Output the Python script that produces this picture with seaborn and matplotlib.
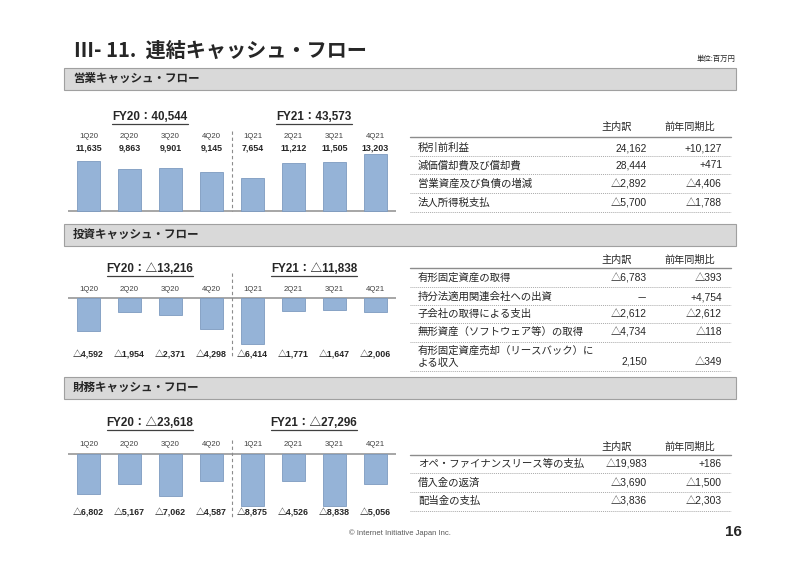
import pandas as pd
import seaborn as sns
import matplotlib.pyplot as plt
from matplotlib.patches import Rectangle
from matplotlib.lines import Line2D

# quarterly cash flows (million yen)
quarters = ['1Q20', '2Q20', '3Q20', '4Q20', '1Q21', '2Q21', '3Q21', '4Q21']
op_cf = [11635, 9863, 9901, 9145, 7654, 11212, 11505, 13203]
inv_cf = [-4592, -1954, -2371, -4298, -6414, -1771, -1647, -2006]
fin_cf = [-6802, -5167, -7062, -4587, -8875, -4526, -8838, -5056]
op_fy = [40544, 43573]
inv_fy = [-13216, -11838]
fin_fy = [-23618, -27296]

# breakdown tables
op_items = ['税引前利益', '減価償却費及び償却費', '営業資産及び負債の増減', '法人所得税支払']
op_main = [24162, 28444, -2892, -5700]
op_yoy = [10127, 471, -4406, -1788]

inv_items = ['有形固定資産の取得', '持分法適用関連会社への出資', '子会社の取得による支出',
             '無形資産（ソフトウェア等）の取得', '有形固定資産売却（リースバック）に\nよる収入']
inv_main = [-6783, None, -2612, -4734, 2150]
inv_yoy = [-393, 4754, -2612, -118, -349]

fin_items = ['オペ・ファイナンスリース等の支払', '借入金の返済', '配当金の支払']
fin_main = [-19983, -3690, -3836]
fin_yoy = [186, -1500, -2303]

sections = ['営業キャッシュ・フロー', '投資キャッシュ・フロー', '財務キャッシュ・フロー']

sns.set_theme(style='white')
plt.rcParams['font.family'] = ['Liberation Sans', 'Noto Sans CJK JP', 'DejaVu Sans']

TXT = '#262626'
BAR = '#95b3d7'
EDGE = '#7d9bc0'

W, H = 800, 566
fig = plt.figure(figsize=(W / 100, H / 100), dpi=100)
fig.patch.set_facecolor('white')


def fx(x):
    return x / W


def fy(y):
    return 1 - y / H


def ftext(x, y, s, **kw):
    kw.setdefault('va', 'center')
    kw.setdefault('color', TXT)
    return fig.text(fx(x), fy(y), s, **kw)


def fline(x0, x1, y, **kw):
    fig.add_artist(Line2D([fx(x0), fx(x1)], [fy(y), fy(y)], transform=fig.transFigure, **kw))


def fmt(v, plus=False):
    if v is None:
        return '－'
    if v < 0:
        return f'△{-v:,}'
    return f'+{v:,}' if plus else f'{v:,}'


underlined = []


def draw_chart(values, totals, base, scale, fy_y, q_y, v_y, dash_top, dash_bot):
    top = fy_y - 14
    bot = max(v_y, dash_bot) + 8
    ax = fig.add_axes([fx(68), fy(bot), (396 - 68) / W, (bot - top) / H])
    df = pd.DataFrame({'q': quarters, 'v': values})
    sns.barplot(data=df, x='q', y='v', ax=ax, color=BAR, saturation=1, width=0.58,
                edgecolor=EDGE, linewidth=0.6)
    ax.set_xlim(-0.5, 7.5)
    ax.set_ylim((base - bot) / scale, (base - top) / scale)
    ax.axis('off')

    def yd(p):
        return (base - p) / scale

    ax.axhline(0, color='#a6a6a6', lw=1.4, zorder=0)
    ax.plot([3.5, 3.5], [yd(dash_top), yd(dash_bot)], color='#8c8c8c', lw=0.8, ls=(0, (3, 2.5)))
    for i, (q, v) in enumerate(zip(quarters, values)):
        ax.text(i, yd(q_y), q, ha='center', va='center', fontsize=5.6, color='#404040')
        ax.text(i, yd(v_y), fmt(v), ha='center', va='center', fontsize=6.4,
                fontweight='bold', color=TXT)
    for k, t in enumerate(totals):
        txt = ax.text(1.5 + 4 * k, yd(fy_y), f'FY{20 + k}：{fmt(t)}', ha='center', va='center',
                      fontsize=8.4, fontweight='bold', color=TXT)
        underlined.append(txt)


def draw_table(items, main, yoy, head_y, line_y, row_ys, dot_ys):
    ftext(617, head_y, '主内訳', ha='center', fontsize=7.3)
    ftext(690, head_y, '前年同期比', ha='center', fontsize=7.3)
    fline(410, 731, line_y, color='#8c8c8c', lw=1.0)
    for item, m, y2, ry in zip(items, main, yoy, row_ys):
        ftext(418, ry, item, ha='left', fontsize=7.5, linespacing=1.3)
        vy = ry + 5.5 if '\n' in item else ry
        ftext(647, vy, fmt(m), ha='right', fontsize=7.4)
        ftext(722, vy, fmt(y2, plus=True), ha='right', fontsize=7.4)
    for dy in dot_ys:
        fline(410, 731, dy, color='#aaaaaa', lw=0.7, ls=(0, (1, 1)))


# title
ftext(74, 50, 'Ⅲ- 11.  連結キャッシュ・フロー', ha='left', fontsize=14.5, fontweight='bold',
      family=['Noto Sans CJK JP', 'DejaVu Sans'])
ftext(735, 59, '単位:百万円', ha='right', fontsize=5.3)

# section headers
for name, (y0, y1) in zip(sections, [(68, 90), (224, 246), (377, 399)]):
    fig.add_artist(Rectangle((fx(64), fy(y1)), (736 - 64) / W, (y1 - y0) / H,
                             transform=fig.transFigure, facecolor='#d9d9d9',
                             edgecolor='#a0a0a0', lw=0.8))
    ftext(73, (y0 + y1) / 2, name, ha='left', fontsize=8.3, fontweight='bold')

# bar charts
draw_chart(op_cf, op_fy, 211, 0.0043, 117, 136, 148, 131, 211)
draw_chart(inv_cf, inv_fy, 298, 0.0072, 269, 289, 355, 273, 357)
draw_chart(fin_cf, fin_fy, 454, 0.0059, 423, 445, 513, 440, 517)

# tables
draw_table(op_items, op_main, op_yoy, 127, 137, [148, 165, 184, 203], [156, 174, 193, 212])
draw_table(inv_items, inv_main, inv_yoy, 260, 268, [278, 297, 314, 332, 356.5],
           [287, 305, 323, 342, 371])
draw_table(fin_items, fin_main, fin_yoy, 447, 455, [464, 483, 501], [473, 492, 511])

# footer
ftext(400, 533, '© Internet Initiative Japan Inc.', ha='center', fontsize=5.5, color='#595959')
ftext(733, 532, '16', ha='center', fontsize=11, fontweight='bold')

# underline the FY totals
fig.canvas.draw()
for t in underlined:
    bb = t.get_window_extent()
    fig.add_artist(Line2D([bb.x0 / W, bb.x1 / W], [(bb.y0 - 0.5) / H] * 2,
                          transform=fig.transFigure, color='#404040', lw=0.9))

fig.savefig('out.png', dpi=100)
